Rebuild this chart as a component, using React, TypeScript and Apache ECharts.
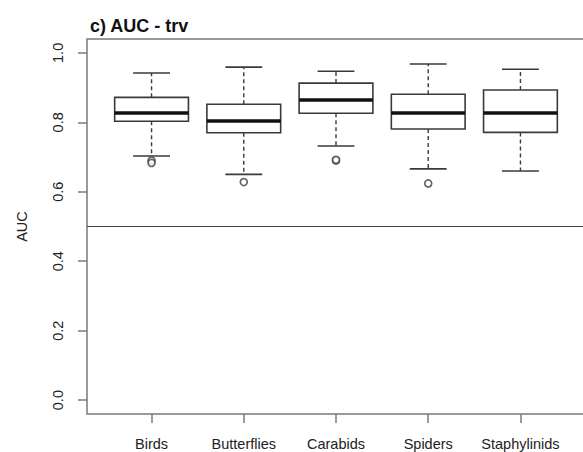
import React, { useEffect, useRef } from "react";
import * as echarts from "echarts";

const categories = ["Birds", "Butterflies", "Carabids", "Spiders", "Staphylinids"];
const lowerWhisker = [0.703, 0.65, 0.732, 0.666, 0.66];
const q1 = [0.803, 0.77, 0.826, 0.781, 0.771];
const median = [0.827, 0.804, 0.864, 0.827, 0.827];
const q3 = [0.872, 0.852, 0.913, 0.881, 0.893];
const upperWhisker = [0.942, 0.959, 0.947, 0.968, 0.953];
const outlierGroup = [1, 1, 2, 3, 3, 4];
const outlierValue = [0.69, 0.683, 0.628, 0.69, 0.692, 0.624];
const yTicks = [0, 0.2, 0.4, 0.6, 0.8, 1.0];
const xTicks = [1, 2, 3, 4, 5];
const refLine = 0.5;

const FONT = "Liberation Sans, Arial, sans-serif";

export default function App() {
  const ref = useRef<HTMLDivElement>(null);
  useEffect(() => {
    if (!ref.current) return;
    const chart = echarts.init(ref.current, null, { renderer: "svg" });
    const boxData = categories.map((_, i) => [
      i + 1,
      lowerWhisker[i],
      q1[i],
      median[i],
      q3[i],
      upperWhisker[i],
    ]);
    const outData = outlierGroup.map((g, i) => [g, outlierValue[i]]);
    const lineColor = "#3a3a3a";
    chart.setOption({
      animation: false,
      title: {
        text: "c) AUC - trv",
        left: 85,
        top: 12,
        textStyle: { fontFamily: FONT, fontWeight: "bold", fontSize: 18, color: "#111" },
      },
      grid: {
        left: 87,
        top: 39,
        width: 498,
        height: 375,
        show: true,
        borderColor: "#7a7a7a",
        borderWidth: 1.5,
        outerBoundsMode: "none",
        containLabel: false,
      },
      xAxis: {
        type: "value",
        min: 0.3,
        max: 5.7,
        splitLine: { show: false },
        axisLine: { show: false, onZero: false },
        axisTick: { show: true, inside: false, length: 9, customValues: xTicks, lineStyle: { color: "#7a7a7a", width: 1.5 } },
        axisLabel: {
          customValues: xTicks,
          margin: 22,
          fontFamily: FONT,
          fontSize: 14.5,
          color: "#222",
          formatter: (v: number) => categories[Math.round(v) - 1] ?? "",
        },
      },
      yAxis: {
        type: "value",
        min: -0.04,
        max: 1.04,
        name: "AUC",
        nameLocation: "middle",
        nameRotate: 90,
        nameGap: 58,
        nameTextStyle: { fontFamily: FONT, fontSize: 14.5, color: "#222" },
        splitLine: { show: false },
        axisLine: { show: false, onZero: false },
        axisTick: { show: true, inside: false, length: 9, customValues: yTicks, lineStyle: { color: "#7a7a7a", width: 1.5 } },
        axisLabel: {
          customValues: yTicks,
          rotate: 90,
          margin: 22,
          fontFamily: FONT,
          fontSize: 14.5,
          color: "#222",
          formatter: (v: number) => v.toFixed(1),
        },
      },
      series: [
        {
          type: "custom",
          data: boxData,
          encode: { x: 0, y: [1, 2, 3, 4, 5] },
          renderItem: (params: any, api: any) => {
            const x = api.value(0);
            const lo = api.coord([x, api.value(1)]);
            const b1 = api.coord([x, api.value(2)]);
            const md = api.coord([x, api.value(3)]);
            const b3 = api.coord([x, api.value(4)]);
            const hi = api.coord([x, api.value(5)]);
            const half = api.size([0.4, 0])[0];
            const cap = api.size([0.2, 0])[0];
            const cx = lo[0];
            const solid = { stroke: lineColor, lineWidth: 1.6, fill: "none" };
            const dashed = { stroke: lineColor, lineWidth: 1.4, lineDash: [4, 3] };
            return {
              type: "group",
              children: [
                { type: "line", shape: { x1: cx, y1: b3[1], x2: cx, y2: hi[1] }, style: dashed },
                { type: "line", shape: { x1: cx, y1: b1[1], x2: cx, y2: lo[1] }, style: dashed },
                { type: "line", shape: { x1: cx - cap, y1: hi[1], x2: cx + cap, y2: hi[1] }, style: solid },
                { type: "line", shape: { x1: cx - cap, y1: lo[1], x2: cx + cap, y2: lo[1] }, style: solid },
                {
                  type: "rect",
                  shape: { x: cx - half, y: b3[1], width: 2 * half, height: b1[1] - b3[1] },
                  style: { stroke: lineColor, lineWidth: 1.6, fill: "#fff" },
                },
                {
                  type: "line",
                  shape: { x1: cx - half, y1: md[1], x2: cx + half, y2: md[1] },
                  style: { stroke: "#111", lineWidth: 3.5 },
                },
              ],
            };
          },
        },
        {
          type: "scatter",
          data: outData,
          symbol: "circle",
          symbolSize: 7,
          itemStyle: { color: "#fff", borderColor: lineColor, borderWidth: 1.6 },
          markLine: {
            silent: true,
            symbol: "none",
            label: { show: false },
            lineStyle: { color: "#444", width: 1.2, type: "solid" },
            data: [{ yAxis: refLine }],
          },
        },
      ],
    });
    return () => chart.dispose();
  }, []);
  return (
    <div
      ref={ref}
      style={{ position: "fixed", left: 0, top: 0, width: 583, height: 452, background: "#fff" }}
    />
  );
}
